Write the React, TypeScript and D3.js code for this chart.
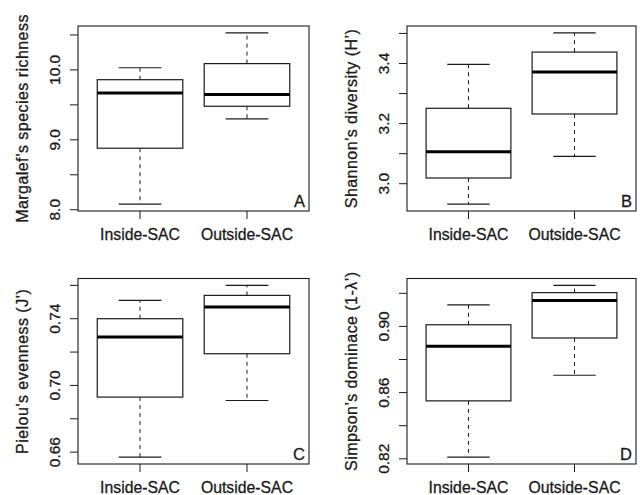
import React, { useEffect, useRef } from 'react';
import * as d3 from 'd3';

const groups = ['Inside-SAC', 'Outside-SAC'];

// five-number summaries: min, q1, median, q3, max
const margalefInside = [8.08, 8.88, 9.67, 9.86, 10.03];
const margalefOutside = [9.3, 9.48, 9.65, 10.09, 10.53];
const shannonInside = [2.932, 3.019, 3.106, 3.251, 3.397];
const shannonOutside = [3.091, 3.232, 3.372, 3.438, 3.502];
const pielouInside = [0.657, 0.693, 0.729, 0.74, 0.751];
const pielouOutside = [0.691, 0.719, 0.747, 0.754, 0.76];
const simpsonInside = [0.821, 0.855, 0.888, 0.901, 0.913];
const simpsonOutside = [0.8705, 0.893, 0.9156, 0.9204, 0.9248];

const margalefTicks = [8.0, 8.5, 9.0, 9.5, 10.0, 10.5];
const margalefLabels = ['8.0', '', '9.0', '', '10.0', ''];
const shannonTicks = [3.0, 3.1, 3.2, 3.3, 3.4, 3.5];
const shannonLabels = ['3.0', '', '3.2', '', '3.4', ''];
const pielouTicks = [0.66, 0.68, 0.7, 0.72, 0.74, 0.76];
const pielouLabels = ['0.66', '', '0.70', '', '0.74', ''];
const simpsonTicks = [0.82, 0.84, 0.86, 0.88, 0.9, 0.92];
const simpsonLabels = ['0.82', '', '0.86', '', '0.90', ''];

const FONT = '"Liberation Sans", Arial, Helvetica, sans-serif';
const INK = '#1a1a1a';

const panels = [
  { title: 'Margalef\u2019s species richness', letter: 'A', data: [margalefInside, margalefOutside], ticks: margalefTicks, labels: margalefLabels, x0: 78, x1: 309, y0: 26, y1: 211 },
  { title: 'Shannon\u2019s diversity (H\u2019)', letter: 'B', data: [shannonInside, shannonOutside], ticks: shannonTicks, labels: shannonLabels, x0: 407, x1: 636, y0: 26, y1: 211 },
  { title: 'Pielou\u2019s evenness (J\u2019)', letter: 'C', data: [pielouInside, pielouOutside], ticks: pielouTicks, labels: pielouLabels, x0: 78, x1: 309, y0: 278.5, y1: 464 },
  { title: 'Simpson\u2019s dominace (1-\u03bb\u2019)', letter: 'D', data: [simpsonInside, simpsonOutside], ticks: simpsonTicks, labels: simpsonLabels, x0: 407, x1: 636, y0: 278.5, y1: 464 },
];

// small helper so all labels share the same look
function label(sel: any, size: number) {
  return sel
    .style('font-family', FONT)
    .style('font-size', `${size}px`)
    .attr('fill', INK)
    .attr('stroke', INK)
    .attr('stroke-width', 0.3);
}

function App() {
  const svgRef = useRef<SVGSVGElement>(null);

  useEffect(() => {
    const svg = d3.select(svgRef.current);
    svg.selectAll('*').remove();

    panels.forEach(p => {
      const all = p.data.flat();
      const lo = d3.min(all)!;
      const hi = d3.max(all)!;
      const pad = (hi - lo) * 0.04;

      const y = d3.scaleLinear().domain([lo - pad, hi + pad]).range([p.y1, p.y0]);
      const x = d3.scaleLinear().domain([0.42, 2.58]).range([p.x0, p.x1]);

      const g = svg.append('g');

      // frame
      g.append('rect')
        .attr('x', p.x0).attr('y', p.y0)
        .attr('width', p.x1 - p.x0).attr('height', p.y1 - p.y0)
        .attr('fill', 'none').attr('stroke', INK).attr('stroke-width', 1.1);

      // y axis ticks + labels
      p.ticks.forEach((t, i) => {
        g.append('line')
          .attr('x1', p.x0).attr('x2', p.x0 - 8)
          .attr('y1', y(t)).attr('y2', y(t))
          .attr('stroke', INK).attr('stroke-width', 1);
        if (p.labels[i]) {
          label(g.append('text'), 15.5)
            .attr('transform', `translate(${p.x0 - 18}, ${y(t)}) rotate(-90)`)
            .attr('text-anchor', 'middle')
            .text(p.labels[i]);
        }
      });

      // x axis ticks + labels
      groups.forEach((name, i) => {
        const cx = x(i + 1);
        g.append('line')
          .attr('x1', cx).attr('x2', cx)
          .attr('y1', p.y1).attr('y2', p.y1 + 8)
          .attr('stroke', INK).attr('stroke-width', 1);
        label(g.append('text'), 15.8)
          .attr('x', cx).attr('y', p.y1 + 29)
          .attr('text-anchor', 'middle')
          .text(name);
      });

      // boxes
      p.data.forEach((d, i) => {
        const [mn, q1, md, q3, mx] = d;
        const c = i + 1;
        const bl = x(c - 0.4), br = x(c + 0.4);
        const sl = x(c - 0.2), sr = x(c + 0.2);

        // whiskers
        [[q3, mx], [q1, mn]].forEach(([a, b]) => {
          g.append('line')
            .attr('x1', x(c)).attr('x2', x(c))
            .attr('y1', y(a)).attr('y2', y(b))
            .attr('stroke', INK).attr('stroke-width', 1)
            .attr('stroke-dasharray', '4,4');
          g.append('line')
            .attr('x1', sl).attr('x2', sr)
            .attr('y1', y(b)).attr('y2', y(b))
            .attr('stroke', INK).attr('stroke-width', 1.1);
        });

        g.append('rect')
          .attr('x', bl).attr('y', y(q3))
          .attr('width', br - bl).attr('height', y(q1) - y(q3))
          .attr('fill', 'white').attr('stroke', INK).attr('stroke-width', 1.2);

        g.append('line')
          .attr('x1', bl).attr('x2', br)
          .attr('y1', y(md)).attr('y2', y(md))
          .attr('stroke', '#000').attr('stroke-width', 3);
      });

      // y title
      label(g.append('text'), 16)
        .attr('transform', `translate(${p.x0 - 50}, ${(p.y0 + p.y1) / 2}) rotate(-90)`)
        .attr('text-anchor', 'middle')
        .style('letter-spacing', '0.45px')
        .text(p.title);

      // panel letter
      label(g.append('text'), 16.5)
        .attr('x', p.x1 - 4).attr('y', p.y1 - 4.5)
        .attr('text-anchor', 'end')
        .text(p.letter);
    });
  }, []);

  return (
    <svg
      ref={svgRef}
      width={643}
      height={495}
      style={{ position: 'absolute', left: 0, top: 0, background: 'white' }}
    />
  );
}

export default App;
